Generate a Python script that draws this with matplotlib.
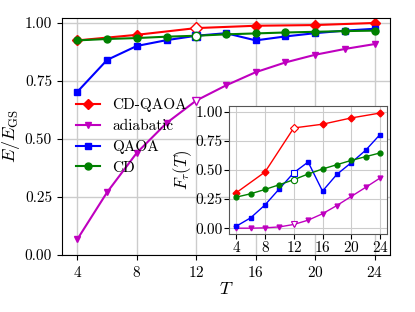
import matplotlib
matplotlib.use("Agg")
import matplotlib.pyplot as plt

plt.rcParams['font.family'] = 'serif'
plt.rcParams['font.serif'] = ['cmr10', 'DejaVu Serif']
plt.rcParams['mathtext.fontset'] = 'cm'
plt.rcParams['axes.formatter.use_mathtext'] = True
plt.rcParams['axes.unicode_minus'] = False

# main panel data
T_cdqaoa = [4, 8, 12, 16, 20, 24]
E_cdqaoa = [0.924, 0.948, 0.977, 0.987, 0.990, 0.999]
T_all = [4, 6, 8, 10, 12, 14, 16, 18, 20, 22, 24]
E_adiab = [0.068, 0.27, 0.44, 0.568, 0.665, 0.73, 0.787, 0.829, 0.862, 0.887, 0.908]
E_qaoa = [0.703, 0.84, 0.90, 0.925, 0.944, 0.955, 0.924, 0.941, 0.955, 0.966, 0.974]
E_cd = [0.924, 0.93, 0.934, 0.94, 0.944, 0.95, 0.954, 0.958, 0.961, 0.964, 0.966]

# inset data
F_cdqaoa = [0.305, 0.483, 0.862, 0.894, 0.948, 0.99]
F_adiab = [0.0, 0.0, 0.003, 0.011, 0.032, 0.069, 0.124, 0.195, 0.273, 0.351, 0.431]
F_qaoa = [0.017, 0.089, 0.20, 0.339, 0.477, 0.569, 0.319, 0.463, 0.563, 0.67, 0.805]
F_cd = [0.267, 0.296, 0.333, 0.374, 0.417, 0.466, 0.509, 0.546, 0.583, 0.615, 0.647]

xticks = [4, 8, 12, 16, 20, 24]
main_yticks = [0.0, 0.25, 0.5, 0.75, 1.0]
inset_yticks = [0.0, 0.25, 0.5, 0.75, 1.0]
open_T = 12

fig = plt.figure(figsize=(4.15, 3.12), dpi=100)
ax = fig.add_axes([0.149, 0.183, 0.791, 0.759])

series = [
    ('CD-QAOA', T_cdqaoa, E_cdqaoa, F_cdqaoa, 'red', 'D'),
    ('adiabatic', T_all, E_adiab, F_adiab, 'm', 'v'),
    ('QAOA', T_all, E_qaoa, F_qaoa, 'b', 's'),
    ('CD', T_all, E_cd, F_cd, 'green', 'o'),
]

for lab, T, E, F, c, m in series:
    ax.plot(T, E, color=c, marker=m, ms=5, lw=1.5, label=lab)
    i = T.index(open_T)
    ax.plot([T[i]], [E[i]], marker=m, ms=6, mfc='white', mec=c, ls='none', zorder=5)

ax.set_xlim(2.95, 25.05)
ax.set_ylim(0.0, 1.02)
ax.set_xticks(xticks)
ax.set_yticks(main_yticks)
ax.set_yticklabels([f'{v:.2f}' for v in main_yticks])
ax.tick_params(labelsize=11)
ax.grid(True, color='#cccccc', lw=1.0)
ax.set_axisbelow(True)
ax.set_xlabel(r'$T$', fontsize=13, labelpad=1)
ax.set_ylabel(r'$E/E_{\rm GS}$', fontsize=13, labelpad=2)
ax.legend(loc='center left', bbox_to_anchor=(0.0, 0.5), frameon=False, fontsize=11,
          handlelength=1.6, handletextpad=0.8, labelspacing=0.45)

ins = fig.add_axes([0.552, 0.25, 0.381, 0.41])
for lab, T, E, F, c, m in series:
    ins.plot(T, F, color=c, marker=m, ms=3.5, lw=1.0)
    i = T.index(open_T)
    ins.plot([T[i]], [F[i]], marker=m, ms=4.5, mfc='white', mec=c, mew=0.8, ls='none', zorder=5)
ins.set_xlim(3.0, 25.0)
ins.set_ylim(-0.05, 1.05)
ins.set_xticks(xticks)
ins.set_yticks(inset_yticks)
ins.set_yticklabels([f'{v:.2f}' for v in inset_yticks])
ins.tick_params(labelsize=11, pad=1)
ins.grid(True, color='#cccccc', lw=0.8)
ins.set_axisbelow(True)
ins.set_ylabel(r'$F_\tau(T)$', fontsize=12, labelpad=1)
for s in ins.spines.values():
    s.set_color('#555555')

fig.savefig('out.png', dpi=100)
